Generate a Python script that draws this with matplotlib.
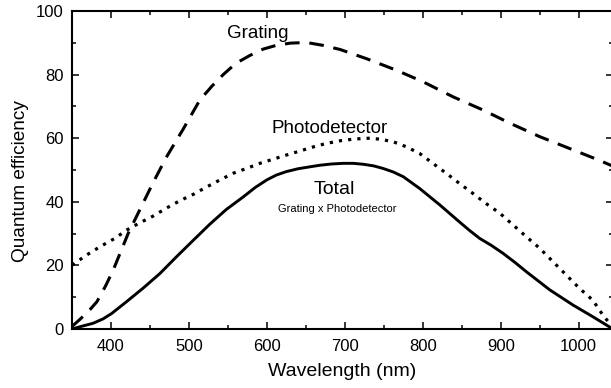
import numpy as np
import matplotlib
matplotlib.use("Agg")
import matplotlib.pyplot as plt
from matplotlib.ticker import MultipleLocator

plt.rcParams['font.family'] = ['Liberation Sans', 'DejaVu Sans']

# Curvas (longitud de onda en nm, eficiencia en %)
grating_wl = [350, 360, 371, 382, 393, 403, 412, 422, 437, 454, 471, 493, 514, 530, 544,
              560, 578, 595, 612, 630, 651, 672, 694, 728, 766, 800, 839, 877, 912,
              950, 988, 1027, 1044]
grating_qe = [0.8, 3, 5.5, 8.6, 13.5, 18.6, 24, 30, 37.5, 46, 54, 63, 72, 76.5, 80,
              83.5, 86, 88, 89.2, 89.9, 90.1, 89.2, 87.9, 85, 81.4, 77.8, 73, 68.9, 64.7,
              60.5, 56.8, 53, 51.2]

photo_wl = [350, 369, 386, 405, 420, 437, 454, 471, 488, 506, 523, 540, 557, 574,
            591, 608, 625, 644, 660, 677, 694, 711, 722, 732, 745, 762, 779, 796, 813,
            830, 847, 864, 881, 899, 916, 933, 950, 967, 984, 1001, 1018, 1031, 1044]
photo_qe = [20.1, 23.3, 25.9, 28.5, 31.1, 33.4, 35.5, 38, 40.3, 42.4, 44.7, 46.9, 49, 50.5,
            52.1, 53.4, 54.7, 56.1, 57.3, 58.4, 59.2, 59.7, 59.9, 60, 59.7, 58.9, 57.3,
            55.2, 52.1, 49, 45.8, 42.7, 39.5, 36.4, 32.7, 29, 25.4, 21.2, 17, 12.8, 9.1,
            4.4, 0.5]

total_wl = [350, 360, 377, 390, 401, 420, 441, 463, 484, 506, 527, 548, 570, 585, 600,
            612, 625, 640, 655, 668, 683, 698, 711, 724, 737, 749, 762, 775, 796, 822,
            847, 860, 873, 888, 903, 918, 933, 963, 993, 1018, 1044]
total_qe = [0, 0.7, 1.8, 3.2, 4.9, 8.6, 12.8, 17.5, 22.7, 28, 33, 37.6, 41.6, 44.5, 46.9,
            48.4, 49.5, 50.4, 51, 51.5, 51.9, 52.1, 52.1, 51.8, 51.3, 50.5, 49.4, 47.9,
            44.2, 39, 33.7, 31, 28.5, 26.3, 23.8, 21, 18, 12.3, 7.5, 3.9, 0]

fig = plt.figure(figsize=(6.11, 3.88), dpi=100)
ax = fig.add_axes([0.1178, 0.152, 0.8854, 0.8196])

ax.plot(grating_wl, grating_qe, color='black', lw=2.2, dashes=(4.8, 3.2))
ax.plot(photo_wl, photo_qe, color='black', lw=2.3, dashes=(1.0, 1.9))
ax.plot(total_wl, total_qe, color='black', lw=2.1)

ax.text(588, 93, 'Grating', fontsize=13.5, ha='center', va='center')
ax.text(681, 63.2, 'Photodetector', fontsize=13.5, ha='center', va='center')
ax.text(687, 44, 'Total', fontsize=14, ha='center', va='center')
ax.text(690, 37.7, 'Grating x Photodetector', fontsize=8, ha='center', va='center')

ax.set_xlim(350, 1044)
ax.set_ylim(0, 100)
ax.xaxis.set_major_locator(MultipleLocator(100))
ax.xaxis.set_minor_locator(MultipleLocator(50))
ax.yaxis.set_major_locator(MultipleLocator(20))
ax.yaxis.set_minor_locator(MultipleLocator(10))
ax.tick_params(which='both', direction='in', top=True, right=True, labelsize=12, width=1.1)
ax.tick_params(which='major', length=5)
ax.tick_params(which='minor', length=3)
ax.tick_params(axis='x', pad=7)
ax.tick_params(axis='y', pad=6)
for s in ax.spines.values():
    s.set_linewidth(1.5)

ax.set_xlabel('Wavelength (nm)', fontsize=14, labelpad=7)
ax.set_ylabel('Quantum efficiency', fontsize=13.7)
ax.yaxis.set_label_coords(-0.08, 0.465)

fig.savefig('out.png', dpi=100)
